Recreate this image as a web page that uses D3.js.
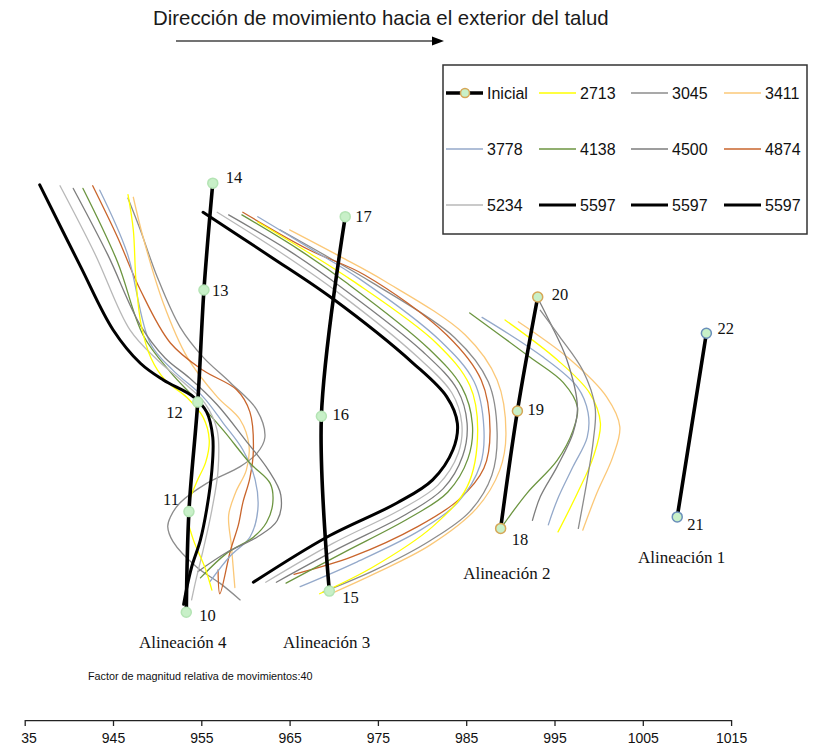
<!DOCTYPE html>
<html>
<head>
<meta charset="utf-8">
<script src="https://cdn.jsdelivr.net/npm/d3@7"></script>
<style>
  body { margin: 0; background: #fff; }
  svg { display: block; }
</style>
</head>
<body>
<svg id="chart" width="817" height="746"></svg>
<script>
// Lecturas (día de medición) de los perfiles desplazados
const fechas = ["2713", "3045", "3411", "3778", "4138", "4500", "4874", "5234", "5597"];
const ejeTicks = [935, 945, 955, 965, 975, 985, 995, 1005, 1015];
const leyendaEtiquetas = ["Inicial", "2713", "3045", "3411", "3778", "4138", "4500", "4874", "5234", "5597", "5597", "5597"];

// Puntos de control de cada alineación (abscisa, cota relativa)
const puntosIniciales = [
  { id: 10, alin: 4, x: 953.3, y: 12.2 },
  { id: 11, alin: 4, x: 953.6, y: 23.6 },
  { id: 12, alin: 4, x: 954.6, y: 36.0 },
  { id: 13, alin: 4, x: 955.3, y: 48.7 },
  { id: 14, alin: 4, x: 956.3, y: 60.8 },
  { id: 15, alin: 3, x: 969.5, y: 14.6 },
  { id: 16, alin: 3, x: 968.6, y: 34.4 },
  { id: 17, alin: 3, x: 971.3, y: 57.0 },
  { id: 18, alin: 2, x: 988.9, y: 21.7 },
  { id: 19, alin: 2, x: 990.8, y: 35.0 },
  { id: 20, alin: 2, x: 993.1, y: 47.9 },
  { id: 21, alin: 1, x: 1008.9, y: 23.0 },
  { id: 22, alin: 1, x: 1012.2, y: 43.8 }
];

const alineacionNombres = [
  { alin: 4, texto: "Alineación 4", x: 952.9, y: 8.8 },
  { alin: 3, texto: "Alineación 3", x: 969.2, y: 8.8 },
  { alin: 2, texto: "Alineación 2", x: 989.6, y: 16.6 },
  { alin: 1, texto: "Alineación 1", x: 1009.4, y: 18.4 }
];

// Perfiles deformados (magnificados x40) — Alineación 4
const perfilesAlin4 = [
  { fecha: "3045", pts: [[946.7,59.1],[948.1,55.5],[950.0,50.2],[952.6,44.5],[955.2,41.1],[958.3,38.2],[961.3,35.1],[962.2,32.0],[961.3,30.2],[959.4,28.7],[955.6,26.8],[952.6,24.6],[951.5,23.0],[951.2,21.9],[951.8,20.2],[954.5,17.3],[957.1,15.5],[959.4,13.6]] },
  { fecha: "3411", pts: [[947.3,59.2],[948.4,54.7],[950.7,47.2],[953.4,41.1],[956.8,36.6],[959.4,34.0],[960.4,31.1],[960.1,28.3],[958.9,25.8],[958.1,23.2],[958.4,19.8],[958.8,15.0]] },
  { fecha: "4874", pts: [[942.7,60.5],[945.5,54.7],[948.1,48.7],[951.5,42.7],[955.2,39.6],[959.0,37.4],[960.5,34.9],[960.9,30.6],[960.5,27.4],[959.7,24.6],[959.2,22.1],[958.3,19.2],[957.1,14.3],[956.9,17.0]] },
  { fecha: "3778", pts: [[943.5,60.0],[946.6,52.9],[949.2,42.7],[951.8,39.6],[955.2,36.6],[957.5,33.6],[959.7,30.6],[961.1,27.2],[961.4,23.8],[960.5,20.7],[958.3,18.6],[956.0,15.7]] },
  { fecha: "4138", pts: [[941.6,60.2],[945.5,51.9],[948.4,43.6],[951.5,39.4],[954.5,36.2],[957.5,32.8],[960.5,29.1],[962.8,26.8],[963.1,24.6],[962.4,22.4],[960.9,20.7],[957.9,18.9],[954.9,16.1]] },
  { fecha: "4500", pts: [[940.5,60.2],[944.4,52.7],[948.1,44.7],[950.9,41.0],[953.7,38.7],[956.8,35.7],[960.0,31.7],[962.6,28.3],[964.0,25.5],[963.6,22.6],[961.3,20.7],[957.9,19.0],[954.6,16.8]] },
  { fecha: "5234", pts: [[939.0,60.5],[943.0,52.7],[946.9,44.2],[950.0,40.8],[952.9,38.3],[955.4,35.9],[956.8,32.8],[956.9,28.3],[956.2,23.8],[955.2,19.2],[954.4,15.9],[953.9,13.6]] },
  { fecha: "2713", pts: [[946.7,59.5],[947.3,55.5],[947.6,49.8],[948.2,44.7],[949.3,41.0],[950.9,38.5],[953.4,36.5],[955.2,34.3],[955.9,31.7],[955.5,29.2],[954.5,27.0],[953.6,24.6],[953.5,22.6],[954.1,20.4],[955.4,17.3],[956.2,14.7]] },
  { fecha: "5597", pts: [[936.7,60.6],[941.3,51.4],[945.0,44.2],[948.1,40.4],[950.7,38.5],[954.1,36.6],[955.6,34.9],[956.3,32.0],[956.2,28.3],[955.6,23.8],[954.9,20.4],[953.9,17.3],[953.3,14.7],[953.0,13.1]] }
];

// Alineación 3
const perfilesAlin3 = [
  { fecha: "3411", pts: [[965.0,55.5],[970.7,52.5],[975.6,49.8],[984.9,43.6],[988.5,38.5],[989.5,32.3],[988.8,28.3],[986.2,24.0],[980.9,19.8],[974.7,16.6],[969.9,14.4]] },
  { fecha: "3045", pts: [[963.9,55.5],[969.6,52.3],[974.4,49.5],[983.7,43.3],[987.5,38.3],[988.5,32.6],[987.9,27.7],[985.4,23.6],[980.9,20.3],[974.7,17.0],[968.8,14.5]] },
  { fecha: "4874", pts: [[959.7,57.5],[967.3,53.2],[973.5,50.4],[982.8,43.6],[986.7,38.5],[987.7,32.8],[987.0,28.5],[984.1,24.9],[979.5,21.9],[972.1,18.5],[965.5,16.5]] },
  { fecha: "3778", pts: [[961.4,57.0],[967.5,53.3],[973.0,49.9],[982.0,43.0],[985.9,38.3],[987.0,33.1],[986.6,28.9],[984.1,24.7],[979.8,21.5],[972.4,17.8],[966.2,15.1]] },
  { fecha: "2713", pts: [[961.4,56.4],[966.7,53.2],[972.2,49.7],[981.6,42.7],[985.4,37.9],[986.3,32.8],[985.1,26.4],[981.2,21.9],[974.4,17.3],[968.4,14.3]] },
  { fecha: "4138", pts: [[959.6,57.2],[966.0,53.3],[971.6,49.4],[980.7,42.1],[984.5,37.7],[985.7,33.5],[985.2,29.6],[982.9,25.8],[978.6,22.9],[971.0,18.9],[964.6,15.5]] },
  { fecha: "4500", pts: [[958.1,57.2],[965.0,53.1],[971.0,48.9],[980.1,41.7],[984.0,37.4],[985.1,33.6],[984.6,29.9],[982.4,26.2],[978.2,23.3],[970.5,19.4],[963.5,15.6]] },
  { fecha: "5234", pts: [[956.8,57.5],[963.9,53.0],[970.5,48.4],[979.5,41.1],[983.4,37.0],[984.5,33.6],[984.1,30.2],[981.8,26.6],[977.7,23.9],[969.9,20.0],[962.3,15.6]] },
  { fecha: "5597", pts: [[955.2,57.5],[962.8,52.5],[969.9,47.7],[979.0,40.4],[982.8,36.6],[984.0,33.6],[983.5,30.6],[981.2,27.2],[977.2,24.6],[969.2,20.7],[960.9,15.6]] }
];

// Alineación 2
const perfilesAlin2 = [
  { fecha: "4138", pts: [[985.4,46.1],[992.2,41.1],[996.0,38.2],[997.6,35.4],[997.1,32.8],[995.3,29.4],[991.9,25.7],[989.2,22.1]] },
  { fecha: "3778", pts: [[986.8,45.6],[993.7,41.1],[997.6,37.7],[998.8,34.8],[998.7,32.0],[997.1,28.7],[995.3,24.9],[994.3,22.1]] },
  { fecha: "2713", pts: [[989.4,45.3],[995.3,40.8],[999.0,37.0],[1000.2,33.6],[999.4,29.8],[997.6,25.7],[995.4,21.3]] },
  { fecha: "3411", pts: [[990.9,45.1],[996.8,40.8],[1000.9,36.6],[1002.4,33.2],[1001.6,29.8],[999.8,25.7],[998.2,21.5]] },
  { fecha: "4500", pts: [[993.1,47.8],[994.5,45.0],[996.4,40.8],[997.6,35.4],[997.1,32.5],[995.3,28.7],[993.4,25.3],[992.5,22.6]] },
  { fecha: "3045", pts: [[993.4,46.4],[995.6,43.4],[998.2,39.6],[999.6,35.4],[999.4,31.7],[998.7,27.2],[997.7,21.7]] }
];

// ---- estilos ----
const colores = {
  "2713": "#ffff00", "3045": "#8c8c8c", "3411": "#fbc878", "3778": "#94a9ca",
  "4138": "#6c9540", "4500": "#7d7d7d", "4874": "#c9652c", "5234": "#b8b8b8", "5597": "#000000"
};
const grosor = f => f === "5597" ? 3 : 1.3;
const bordePunto = { 4: "#b4e4b4", 3: "#b4e4b4", 2: "#d6a656", 1: "#6a8fba" };
const rellenoPunto = "#c8f0c8";
// posición de cada rótulo numérico respecto a su punto
const rotulo = {
  10: [13, 3, "start"], 11: [-10, -12, "end"], 12: [-15, 10, "end"], 13: [8, 1, "start"],
  14: [13, -6, "start"], 15: [13, 6, "start"], 16: [11, -2, "start"], 17: [10, 0, "start"],
  18: [11, 11, "start"], 19: [10, -1, "start"], 20: [14, -3, "start"], 21: [10, 8, "start"],
  22: [11, -5, "start"]
};

const svg = d3.select("#chart");
const x = d3.scaleLinear().domain([935, 1015]).range([24.7, 731.1]);
const y = d3.scaleLinear().domain([0, 80]).range([720, 13.6]);

const linea = d3.line().x(d => x(d[0])).y(d => y(d[1])).curve(d3.curveCatmullRom.alpha(0.5));

// Título y flecha de dirección
svg.append("text")
  .attr("x", 153).attr("y", 25)
  .attr("font-family", "Liberation Sans, Arial, sans-serif")
  .attr("font-size", 20.4).attr("fill", "#1a1a1a")
  .text("Dirección de movimiento hacia el exterior del talud");
svg.append("line")
  .attr("x1", 176).attr("x2", 434).attr("y1", 41).attr("y2", 41)
  .attr("stroke", "#444").attr("stroke-width", 1.6);
svg.append("path")
  .attr("d", "M432,36.5 L444,41 L432,45.5 Z")
  .attr("fill", "#000");

// Perfiles desplazados
const grupos = [perfilesAlin4, perfilesAlin3, perfilesAlin2];
const gPerfiles = svg.append("g").attr("fill", "none");
grupos.forEach(perfiles => {
  gPerfiles.selectAll(null)
    .data(perfiles)
    .join("path")
    .attr("d", d => linea(d.pts))
    .attr("stroke", d => colores[d.fecha])
    .attr("stroke-width", d => grosor(d.fecha))
    .attr("stroke-linecap", "round")
    .attr("stroke-linejoin", "round");
});

// Alineaciones iniciales
const porAlin = d3.groups(puntosIniciales, d => d.alin);
svg.append("g").selectAll("path")
  .data(porAlin)
  .join("path")
  .attr("d", d => linea(d[1].map(p => [p.x, p.y])))
  .attr("fill", "none")
  .attr("stroke", "#000")
  .attr("stroke-width", 3.6)
  .attr("stroke-linecap", "round");

svg.append("g").selectAll("circle")
  .data(puntosIniciales)
  .join("circle")
  .attr("cx", d => x(d.x)).attr("cy", d => y(d.y))
  .attr("r", 5)
  .attr("fill", rellenoPunto)
  .attr("stroke", d => bordePunto[d.alin])
  .attr("stroke-width", 1.5);

svg.append("g").selectAll("text")
  .data(puntosIniciales)
  .join("text")
  .attr("x", d => x(d.x) + rotulo[d.id][0])
  .attr("y", d => y(d.y) + rotulo[d.id][1])
  .attr("text-anchor", d => rotulo[d.id][2])
  .attr("dominant-baseline", "central")
  .attr("font-family", "Liberation Serif, Times New Roman, serif")
  .attr("font-size", 16.5).attr("fill", "#111")
  .text(d => d.id);

svg.append("g").selectAll("text")
  .data(alineacionNombres)
  .join("text")
  .attr("x", d => x(d.x)).attr("y", d => y(d.y))
  .attr("text-anchor", "middle")
  .attr("dominant-baseline", "central")
  .attr("font-family", "Liberation Serif, Times New Roman, serif")
  .attr("font-size", 17).attr("fill", "#111")
  .text(d => d.texto);

// Nota del factor de escala
svg.append("text")
  .attr("x", 88).attr("y", 680)
  .attr("font-family", "Liberation Sans, Arial, sans-serif")
  .attr("font-size", 10.8).attr("fill", "#111")
  .text("Factor de magnitud relativa de movimientos:40");

// Eje horizontal
svg.append("clipPath").attr("id", "recorte")
  .append("rect").attr("x", 21).attr("y", 0).attr("width", 817).attr("height", 746);
const eje = svg.append("g")
  .attr("transform", "translate(0,720)")
  .attr("clip-path", "url(#recorte)")
  .call(d3.axisBottom(x).tickValues(ejeTicks).tickFormat(d3.format("d")).tickSize(6).tickSizeOuter(0).tickPadding(7));
eje.select(".domain").attr("stroke", "#222").attr("stroke-width", 1.3);
eje.selectAll(".tick line").attr("stroke", "#222").attr("stroke-width", 1.3);
eje.selectAll(".tick text")
  .attr("font-family", "Liberation Sans, Arial, sans-serif")
  .attr("font-size", 14).attr("fill", "#111");

// Leyenda
const leyenda = svg.append("g");
leyenda.append("rect")
  .attr("x", 443).attr("y", 65).attr("width", 364).attr("height", 169)
  .attr("fill", "#fff").attr("stroke", "#333").attr("stroke-width", 1.5);
const colX = [446, 539, 631, 724];
const filaY = [93, 149, 205];
const items = leyenda.selectAll("g.item")
  .data(leyendaEtiquetas)
  .join("g")
  .attr("class", "item")
  .attr("transform", (d, i) => `translate(${colX[i % 4]},${filaY[Math.floor(i / 4)]})`);
items.append("line")
  .attr("x1", 0).attr("x2", 37).attr("y1", 0).attr("y2", 0)
  .attr("stroke", d => d === "Inicial" ? "#000" : colores[d])
  .attr("stroke-width", d => d === "Inicial" ? 3.6 : grosor(d));
items.filter(d => d === "Inicial").append("circle")
  .attr("cx", 19).attr("cy", 0).attr("r", 4.5)
  .attr("fill", rellenoPunto).attr("stroke", "#d6a656").attr("stroke-width", 1.5);
items.append("text")
  .attr("x", 41).attr("y", 0)
  .attr("dominant-baseline", "central")
  .attr("font-family", "Liberation Sans, Arial, sans-serif")
  .attr("font-size", 16).attr("fill", "#111")
  .text(d => d);
</script>
</body>
</html>
